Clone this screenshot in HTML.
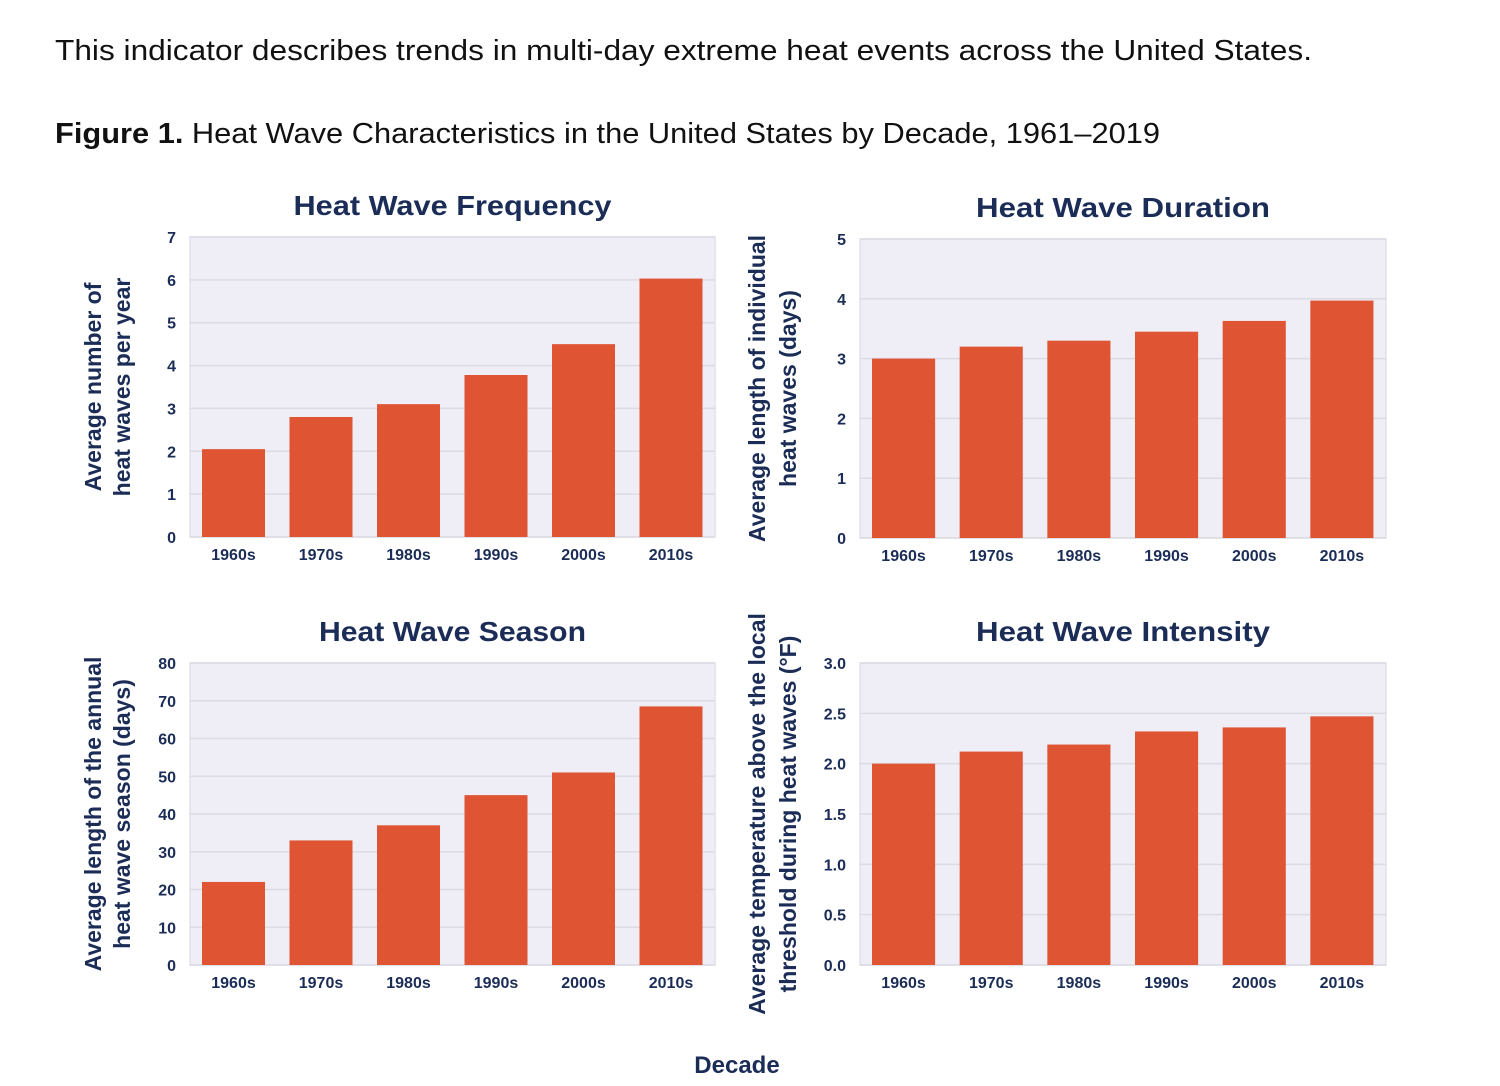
<!DOCTYPE html>
<html><head><meta charset="utf-8">
<style>
html,body{margin:0;padding:0;background:#fff;}
body{width:1500px;height:1086px;overflow:hidden;}
svg{display:block;}
</style></head>
<body>
<svg id="fig" width="1500" height="1086" viewBox="0 0 1500 1086" xmlns="http://www.w3.org/2000/svg">
  <text x="55" y="60" font-family="Liberation Sans, sans-serif" font-size="29" fill="#111" textLength="1257" lengthAdjust="spacingAndGlyphs">This indicator describes trends in multi-day extreme heat events across the United States.</text>
  <text x="55" y="143" font-family="Liberation Sans, sans-serif" font-size="29" fill="#111" textLength="1105" lengthAdjust="spacingAndGlyphs"><tspan font-weight="bold">Figure 1.</tspan> Heat Wave Characteristics in the United States by Decade, 1961–2019</text>
  <text x="737" y="1073" text-anchor="middle" font-family="Liberation Sans, sans-serif" font-size="24" font-weight="bold" fill="#1b2d57">Decade</text>
</svg>
<script>
const categories = ["1960s","1970s","1980s","1990s","2000s","2010s"];
const frequencyValues = [2.05, 2.8, 3.1, 3.78, 4.5, 6.03];
const durationValues = [3.0, 3.2, 3.3, 3.45, 3.63, 3.97];
const seasonValues = [22, 33, 37, 45, 51, 68.5];
const intensityValues = [2.0, 2.12, 2.19, 2.32, 2.36, 2.47];
const frequencyTicks = ["0","1","2","3","4","5","6","7"];
const durationTicks = ["0","1","2","3","4","5"];
const seasonTicks = ["0","10","20","30","40","50","60","70","80"];
const intensityTicks = ["0.0","0.5","1.0","1.5","2.0","2.5","3.0"];

const NS = "http://www.w3.org/2000/svg";
const svg = document.getElementById('fig');
const NAVY = "#1b2d57";
function mk(tag, attrs, parent){
  const e = document.createElementNS(NS, tag);
  for (const k in attrs) e.setAttribute(k, attrs[k]);
  (parent||svg).appendChild(e);
  return e;
}

const panels = [
  {key:"frequency", title:"Heat Wave Frequency", values:frequencyValues, ticks:frequencyTicks,
   x0:190, x1:715, y0:237, y1:537, ylab:["Average number of","heat waves per year"], labX:[93,122], tlen:318},
  {key:"duration", title:"Heat Wave Duration", values:durationValues, ticks:durationTicks,
   x0:860, x1:1386, y0:239, y1:538, ylab:["Average length of individual","heat waves (days)"], labX:[757,788], tlen:294},
  {key:"season", title:"Heat Wave Season", values:seasonValues, ticks:seasonTicks,
   x0:190, x1:715, y0:663, y1:965, ylab:["Average length of the annual","heat wave season (days)"], labX:[93,122], tlen:267},
  {key:"intensity", title:"Heat Wave Intensity", values:intensityValues, ticks:intensityTicks,
   x0:860, x1:1386, y0:663, y1:965, ylab:["Average temperature above the local","threshold during heat waves (°F)"], labX:[757,788], tlen:294}
];

panels.forEach(p => {
  const g = mk('g', {});
  
  
  const maxV = parseFloat(p.ticks[p.ticks.length-1]);
  const minV = parseFloat(p.ticks[0]);
  const yScale = v => p.y1 - (v - minV) / (maxV - minV) * (p.y1 - p.y0);
  const band = (p.x1 - p.x0) / categories.length;
  const xScale = i => p.x0 + 12 + i * band;
  const bw = band * 0.72;

  const bg = mk('rect', {x:p.x0, y:p.y0, width:p.x1-p.x0, height:p.y1-p.y0, fill:"#efedf6", stroke:"#e2e1e8", "stroke-width":1.5}, g);
  
  

  p.ticks.forEach(t => {
    const y = yScale(parseFloat(t));
    const gl = mk('line', {x1:p.x0, x2:p.x1, y1:y, y2:y, stroke:"#dcdbe2", "stroke-width":1.5}, g);
    
    
    const tl = mk('text', {x:p.x0-14, y:y+6, "text-anchor":"end", "font-family":"Liberation Sans, sans-serif", "font-size":16, "font-weight":"bold", fill:NAVY}, g);
    tl.textContent = t;
    
    
  });

  p.values.forEach((v, i) => {
    const x = xScale(i);
    const r = mk('rect', {x:x, y:yScale(v), width:bw, height:yScale(minV)-yScale(v), fill:"#df5433"}, g);
    
    
    const cl = mk('text', {x:x+bw/2, y:p.y1+23, "text-anchor":"middle", "font-family":"Liberation Sans, sans-serif", "font-size":16, "font-weight":"bold", fill:NAVY}, g);
    cl.textContent = categories[i];
    
    
  });

  const tt = mk('text', {x:(p.x0+p.x1)/2, y:p.y0-22, "text-anchor":"middle", "font-family":"Liberation Sans, sans-serif", "font-size":28, "font-weight":"bold", fill:NAVY, textLength:p.tlen, lengthAdjust:"spacingAndGlyphs"}, g);
  tt.textContent = p.title;
  
  

  const cy = (p.y0 + p.y1) / 2;
  p.ylab.forEach((line, j) => {
    const lx = p.labX[j] + 8;
    const yl = mk('text', {x:lx, y:cy, "text-anchor":"middle", transform:`rotate(-90 ${lx} ${cy})`, "font-family":"Liberation Sans, sans-serif", "font-size":23, "font-weight":"bold", fill:NAVY}, g);
    yl.textContent = line;
    
    
  });
});
</script>
</body></html>
